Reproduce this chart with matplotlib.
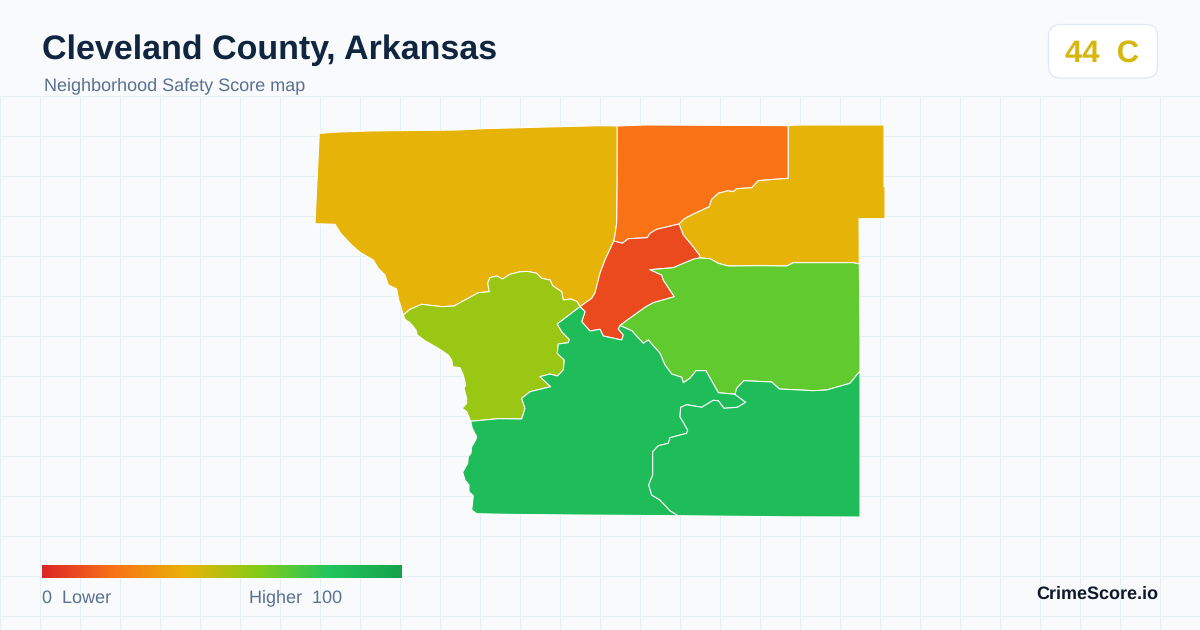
import matplotlib
matplotlib.use("Agg")
import matplotlib.pyplot as plt
import numpy as np
from matplotlib.colors import LinearSegmentedColormap
from matplotlib.patches import FancyBboxPatch, Polygon

plt.rcParams['font.family'] = ['Liberation Sans', 'DejaVu Sans']
plt.rcParams['text.hinting'] = 'no_hinting'
plt.rcParams['text.hinting_factor'] = 1

TITLE = "Cleveland County, Arkansas"
SUBTITLE = "Neighborhood Safety Score map"
BADGE = "44  C"
BRAND = "CrimeScore.io"

# colour scale
SCALE_POS = [0, 0.2, 0.4, 0.6, 0.8, 1.0]
SCALE_COL = ['#dc2626', '#f97316', '#eab308', '#84cc16', '#22c55e', '#16a34a']

# projected border pieces shared between the neighbouring tracts
nw_top = [(319.3,133.3),(339,132),(369,131),(458,130),(482.7,128.7),(560,126.7),(600,125.7),(617.3,126)]
nw_orange = [(617.3,126),(617.2,180),(616.7,223),(615,235),(613.8,241)]
nw_red = [(613.8,241),(605,260),(600,273.3),(595,293),(591.7,298.3),(580,306.7)]
nw_lime = [(580,306.7),(577.3,301.7),(571,299),(563.3,300),(561.7,291.7),(552.7,285.7),(550,280),(541.7,278.3),(536.7,273.3),(528,271.5),(520,271.7),(510,274.3),(502.7,279),(496.7,276),(490,277.7),(487.7,283.3),(489.3,291.7),(478.3,292.7),(465,300),(454,306),(441.7,306.7),(421.7,304.3),(410,309.3),(403.3,315)]
nw_west = [(403.3,315),(402.3,311.7),(398.3,298.3),(396.7,289),(388.3,285),(385,275),(378.3,268.3),(373.3,260),(360,252.3),(351.7,245),(340.7,233.3),(335,224.3),(315,223.7)]
orange_top = [(617.3,126),(646,125),(788.3,125.7)]
orange_ne = [(788.3,125.7),(788.3,178.3),(774,179.3),(758.3,180.7),(751.7,187.7),(736.7,188.7),(733.3,191.7),(728.3,190.7),(718.3,193.3),(711.7,199.3),(709.3,206.7),(695,213.3),(685,218.3),(679,224)]
orange_red = [(679,224),(656.7,229.3),(650,233.3),(647.3,237.7),(628.3,238.7),(622.3,243.3),(613.8,241)]
ne_outer = [(788.3,125.7),(798.3,125),(884,125),(884,186.7),(885,187.3),(885,218.7),(859,218.7),(859.3,264)]
ne_green = [(859.3,264),(853.3,262.7),(793.3,262.7),(786.7,266),(760,265.7),(728.3,266),(718.3,263.3),(710,258.7),(700,258)]
ne_red = [(700,258),(699.3,255),(691.7,245),(683.3,235),(679,224)]
red_green = [(700,258),(695,258.7),(685,262.7),(673.3,267.7),(650,269.7),(661.7,275),(663.3,280),(674.3,296.7),(653.3,302.7),(646,306.7),(628.3,319.3),(620,325.5)]
red_south = [(620,325.5),(618.3,329),(623.3,335),(621.7,340),(603.3,336),(600,329.3),(590,331),(581.7,321.7),(585,311.7),(580,306.7)]
lime_south = [(580,306.7),(557.3,324),(561.7,331.7),(569.3,339.3),(568.3,342.7),(558.3,344),(557.3,353.3),(564.3,360),(563.3,370),(557.3,376),(550,374),(540,376.7),(550.7,386.7),(530,391.7),(521.7,398.3),(525,408.3),(521.7,419),(498.3,418.7),(470.7,421.3)]
lime_west = [(470.7,421.3),(466.7,411.7),(462.3,408.3),(466.7,403.3),(466.7,398.3),(464,388.3),(465.7,385),(463.3,375),(460,367.7),(452.7,366.7),(451.7,360),(448.3,355),(438.3,348.3),(425,340.7),(417.3,335),(416,330),(410,322.7),(405,319.3),(403.3,315)]
green_south = [(620,325.5),(631.7,330.7),(643.3,343.3),(648.3,340),(660,353.3),(665,365),(671.7,374),(681.7,377.3),(683.3,382.7),(690,378.3),(696,370.7),(706,370.7),(718.3,392.7),(735,394.3)]
green_se = [(735,394.3),(736.7,388.3),(744,380.7),(771.7,382),(779.3,389),(813.3,390.7),(826.7,390),(850,383.3),(860,371)]
green_east = [(860,371),(860,340),(859.3,264)]
sw_south = [(470.7,421.3),(472.3,428.3),(476.7,436.7),(475.7,440),(471.7,446.7),(471,453.3),(468.3,456.7),(467.7,463.3),(462.7,472.3),(465,480),(469,485),(469,491.7),(473.3,495.7),(471.7,510),(476.7,513.7),(505,514.3),(576.7,515),(678.3,515.7)]
sw_se = [(678.3,515.7),(670,510.7),(660,500),(651.7,495),(648.7,485),(652.7,475),(652.7,451.7),(658.3,445.7),(668.3,443.3),(670,437.7),(686.7,433.3),(687.7,430),(680,416.7),(680.7,407.3),(686.7,404.7),(701.7,407.3),(713.3,400.3),(718.3,400.7),(724,408.3),(737.3,407.3),(745.7,402.3),(735,394.3)]
se_outer = [(860,371),(860,517),(787,516.8),(678.3,515.7)]

def ring(*parts):
    pts = []
    for p in parts:
        pts.extend(p)
    return pts

def rev(p):
    return p[::-1]

tract_rings = [
    ring(nw_top, nw_orange, nw_red, nw_lime, nw_west),
    ring(orange_top, orange_ne, orange_red, rev(nw_orange)),
    ring(ne_outer, ne_green, ne_red, rev(orange_ne)),
    ring(rev(ne_red), red_green, red_south, rev(nw_red), rev(orange_red)),
    ring(rev(nw_lime), lime_south, lime_west),
    ring(red_green, green_south, green_se, green_east, ne_green),
    ring(rev(red_south), green_south, rev(sw_se), rev(sw_south), rev(lime_south)),
    ring(sw_se, green_se, se_outer),
]
tract_scores = [41, 20, 41, 9.5, 55.5, 67, 84.7, 84.7]

cmap = LinearSegmentedColormap.from_list('score', list(zip(SCALE_POS, SCALE_COL)))

BG = '#f8fafc'
GRID = '#e6eff4'
fig = plt.figure(figsize=(12, 6.3), dpi=100, facecolor=BG)
ax = fig.add_axes([0, 0, 1, 1])
ax.set_axis_off()

for x in np.arange(0, 1200, 40):
    ax.plot([x, x], [96, 630], color=GRID, lw=0.72, zorder=1, solid_capstyle='butt')
for y in np.arange(96, 630, 40):
    ax.plot([0, 1200], [y, y], color=GRID, lw=0.72, zorder=1, solid_capstyle='butt')

for pts, s in zip(tract_rings, tract_scores):
    ax.add_patch(Polygon(pts, closed=True, facecolor=cmap(s / 100), edgecolor='white',
                         lw=0.75, joinstyle='round', zorder=3))

grad = np.linspace(0, 1, 360).reshape(1, -1)
ax.imshow(grad, cmap=cmap, extent=[42, 402, 578, 565], aspect='auto', zorder=4, interpolation='bilinear')

ax.add_patch(FancyBboxPatch((1048.5 + 12, 24.5 + 12), 109 - 24, 53.5 - 24,
                            boxstyle='round,pad=12,rounding_size=12', facecolor='white',
                            edgecolor='#e2e8f0', lw=0.9, zorder=4))

ax.set_xlim(0, 1200)
ax.set_ylim(630, 0)

ax.text(42, 59, TITLE, fontsize=24.25, fontweight='bold', color='#0f2540', va='baseline', ha='left', zorder=5)
ax.text(44, 90.5, SUBTITLE, fontsize=12.96, color='#5a7090', va='baseline', ha='left', zorder=5)
ax.text(1102.5, 62, BADGE, fontsize=22.6, fontweight='bold', color='#d6b70f', va='baseline', ha='center', zorder=5)
ax.text(42, 602.5, "0  Lower", fontsize=12.96, color='#5a7090', va='baseline', ha='left', zorder=5)
ax.text(249, 602.5, "Higher  100", fontsize=12.96, color='#5a7090', va='baseline', ha='left', zorder=5)
ax.text(1158, 598.5, BRAND, fontsize=12.96, fontweight='bold', color='#0f172a', va='baseline', ha='right', zorder=5)

fig.savefig('out.png', dpi=100, facecolor=BG)
